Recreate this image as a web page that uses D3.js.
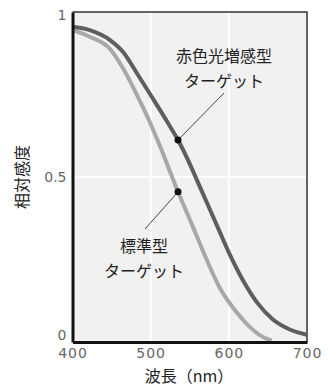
<!DOCTYPE html>
<html>
<head>
<meta charset="utf-8">
<script src="https://cdn.jsdelivr.net/npm/d3@7"></script>
<style>
body { margin: 0; background: #fff; }
svg { display: block; }
</style>
</head>
<body>
<svg width="328" height="392"></svg>
<script>
// 波長 (nm) と相対感度
var redWl  = [400, 422, 448, 465, 483, 503, 521, 535, 550, 563, 585, 601, 618, 636, 656, 678, 700];
var redVal = [0.955, 0.945, 0.915, 0.878, 0.812, 0.737, 0.668, 0.612, 0.540, 0.470, 0.352, 0.266, 0.187, 0.120, 0.069, 0.038, 0.022];
var stdWl  = [400, 422, 448, 465, 483, 499, 512, 535, 553, 571, 588, 610, 627, 648, 655];
var stdVal = [0.945, 0.925, 0.888, 0.828, 0.746, 0.666, 0.593, 0.455, 0.355, 0.253, 0.166, 0.090, 0.045, 0.010, 0.005];
var xTicks = [400, 500, 600, 700];
var yTicks = [0, 0.5, 1];
var yTickLabels = ["0", "0.5", "1"];
var labels = [
	{ lines: ["赤色光増感型", "ターゲット"], wl: 535, val: 0.612 },
	{ lines: ["標準型", "ターゲット"], wl: 535, val: 0.455 }
];

var svg = d3.select("svg");
var pL = 72.5, pR = 307, pT = 12, pB = 342;

var x = d3.scaleLinear().domain([400, 700]).range([pL, pR]);
var y = d3.scaleLinear().domain([0, 1]).range([pB, pT]);

svg.append("rect").attr("x", pL).attr("y", pT)
	.attr("width", pR - pL).attr("height", pB - pT)
	.attr("fill", "#f1f1f1");

// grid
svg.append("g").selectAll("line").data([500, 600]).enter().append("line")
	.attr("x1", function(d) { return x(d); }).attr("x2", function(d) { return x(d); })
	.attr("y1", pT).attr("y2", pB)
	.attr("stroke", "#fff").attr("stroke-width", 2);
svg.append("line").attr("x1", pL).attr("x2", pR)
	.attr("y1", y(0.5)).attr("y2", y(0.5))
	.attr("stroke", "#fff").attr("stroke-width", 2);

// frame
svg.append("path").attr("d", "M" + pL + "," + pT + "H" + pR + "V" + pB)
	.attr("fill", "none").attr("stroke", "#333").attr("stroke-width", 1.5);

var line = d3.line().curve(d3.curveMonotoneX)
	.x(function(d) { return x(d[0]); }).y(function(d) { return y(d[1]); });

svg.append("path").datum(d3.zip(stdWl, stdVal)).attr("d", line)
	.attr("fill", "none").attr("stroke", "#a8a8a8").attr("stroke-width", 4);
svg.append("path").datum(d3.zip(redWl, redVal)).attr("d", line)
	.attr("fill", "none").attr("stroke", "#5e5e5e").attr("stroke-width", 4);

// axes
var xAxis = d3.axisBottom(x).tickValues(xTicks).tickSize(0).tickPadding(5);
var gx = svg.append("g").attr("transform", "translate(0," + pB + ")").call(xAxis);
gx.select(".domain").attr("stroke", "#111").attr("stroke-width", 3);
gx.selectAll("text").attr("font-family", "DejaVu Sans").attr("font-size", 14)
	.attr("letter-spacing", 1).attr("fill", "#666").attr("dy", "0.75em");

var yAxis = d3.axisLeft(y).tickValues(yTicks).tickSize(0).tickPadding(6)
	.tickFormat(function(d, i) { return yTickLabels[i]; });
var gy = svg.append("g").attr("transform", "translate(" + pL + ",0)").call(yAxis);
gy.select(".domain").attr("stroke", "#111").attr("stroke-width", 3);
gy.selectAll("text").attr("font-family", "DejaVu Sans").attr("font-size", 14)
	.attr("fill", "#666");
gy.selectAll(".tick").filter(function(d) { return d === 0; }).select("text").attr("dy", "-0.2em");
gy.selectAll(".tick").filter(function(d) { return d === 1; }).select("text").attr("dy", "0.5em");

// axis titles
svg.append("text").attr("x", 189).attr("y", 382).attr("text-anchor", "middle")
	.attr("font-family", "Noto Sans CJK JP").attr("font-size", 16).attr("fill", "#222")
	.text("波長（nm）");
svg.append("text").attr("transform", "translate(28,177) rotate(-90)").attr("text-anchor", "middle")
	.attr("font-family", "Noto Sans CJK JP").attr("font-size", 16).attr("fill", "#222")
	.text("相対感度");

// annotations
var boxes = [{ cx: 224, y0: 62, lx: 224, ly: 93 }, { cx: 144, y0: 252, lx: 145, ly: 229 }];
labels.forEach(function(l, i) {
	var b = boxes[i];
	svg.append("line").attr("x1", x(l.wl)).attr("y1", y(l.val)).attr("x2", b.lx).attr("y2", b.ly)
		.attr("stroke", "#444").attr("stroke-width", 1);
	svg.append("circle").attr("cx", x(l.wl)).attr("cy", y(l.val)).attr("r", 3.5).attr("fill", "#111");
	l.lines.forEach(function(t, j) {
		svg.append("text").attr("x", b.cx).attr("y", b.y0 + j * 25).attr("text-anchor", "middle")
			.attr("font-family", "Noto Sans CJK JP").attr("font-size", 16).attr("fill", "#222")
			.text(t);
	});
});
</script>
</body>
</html>
